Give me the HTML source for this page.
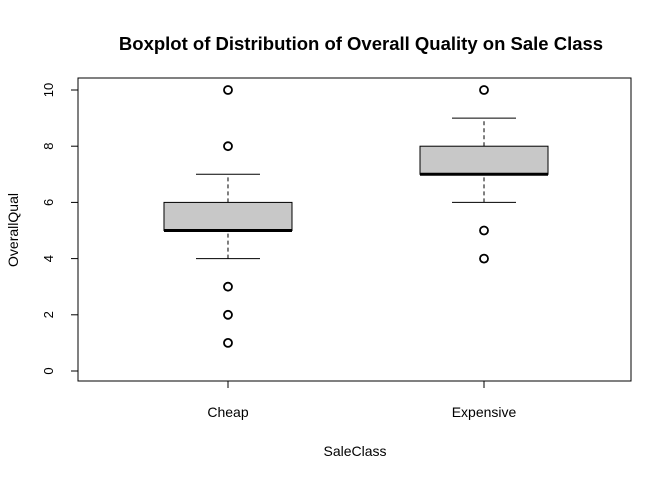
<!DOCTYPE html>
<html><head><meta charset="utf-8"><style>
body{margin:0;background:#fff}
svg{font-family:"Liberation Sans",Arial,sans-serif}
</style></head><body>
<svg id="chart" width="672" height="480" viewBox="0 0 672 480" xmlns="http://www.w3.org/2000/svg">
<text x="361" y="50" text-anchor="middle" font-size="18.5" font-weight="bold">Boxplot of Distribution of Overall Quality on Sale Class</text>
<rect x="78" y="78" width="553" height="303" fill="none" stroke="#000" stroke-width="1"/>
<text x="355" y="456" text-anchor="middle" font-size="14">SaleClass</text>
<text transform="translate(18,230) rotate(-90)" text-anchor="middle" font-size="14">OverallQual</text>
<g id="marks"></g>
</svg>
<script>
const categories = ["Cheap", "Expensive"];
const whiskerLow = [4, 6];
const q1 = [5, 7];
const medians = [5, 7];
const q3 = [6, 8];
const whiskerHigh = [7, 9];
const outliers = [[10, 8, 3, 2, 1], [10, 5, 4]];
const yTicks = [0, 2, 4, 6, 8, 10];

const NS = "http://www.w3.org/2000/svg";
const g = document.getElementById("marks");
const L = 78, R = 631;
const xs = i => L + 1.5 + ((i + 1) - 0.42) / 2.16 * (R - L);
const ys = v => 371 - v * 28.1;
function mk(tag, attrs) { const e = document.createElementNS(NS, tag); for (const k in attrs) e.setAttribute(k, attrs[k]); g.appendChild(e); return e; }

yTicks.forEach(t => {
  const l = mk("line", {x1: L, x2: L - 7, y1: ys(t), y2: ys(t), stroke: "#000"});
  
  
  const tx = mk("text", {transform: `translate(53,${ys(t)}) rotate(-90)`, "text-anchor": "middle", "font-size": 13});
  tx.textContent = t;
  
  
});
mk("line", {x1: L, x2: L, y1: ys(0), y2: ys(10), stroke: "#000"});

categories.forEach((c, i) => {
  const x = xs(i), hw = 64;
  const t = mk("line", {x1: x, x2: x, y1: 381, y2: 388, stroke: "#000"});
  
  
  const lb = mk("text", {x: x, y: 417, "text-anchor": "middle", "font-size": 14});
  lb.textContent = c;
  
  
  const w1 = mk("line", {x1: x, x2: x, y1: ys(whiskerLow[i]), y2: ys(q1[i]), stroke: "#000", "stroke-dasharray": "4,3"});
  
  
  const w2 = mk("line", {x1: x, x2: x, y1: ys(q3[i]), y2: ys(whiskerHigh[i]), stroke: "#000", "stroke-dasharray": "4,3"});
  
  
  [whiskerLow[i], whiskerHigh[i]].forEach(v => {
    const s = mk("line", {x1: x - hw / 2, x2: x + hw / 2, y1: ys(v), y2: ys(v), stroke: "#000"});
    
    
  });
  const b = mk("rect", {x: x - hw, y: ys(q3[i]), width: 2 * hw, height: ys(q1[i]) - ys(q3[i]), fill: "#c8c8c8", stroke: "#000"});
  
  
  const m = mk("line", {x1: x - hw, x2: x + hw, y1: ys(medians[i]), y2: ys(medians[i]), stroke: "#000", "stroke-width": 3});
  
  
  outliers[i].forEach(v => {
    const o = mk("circle", {cx: x, cy: ys(v), r: 4, fill: "none", stroke: "#000", "stroke-width": 1.8});
    
    
  });
});
</script>
</body></html>
